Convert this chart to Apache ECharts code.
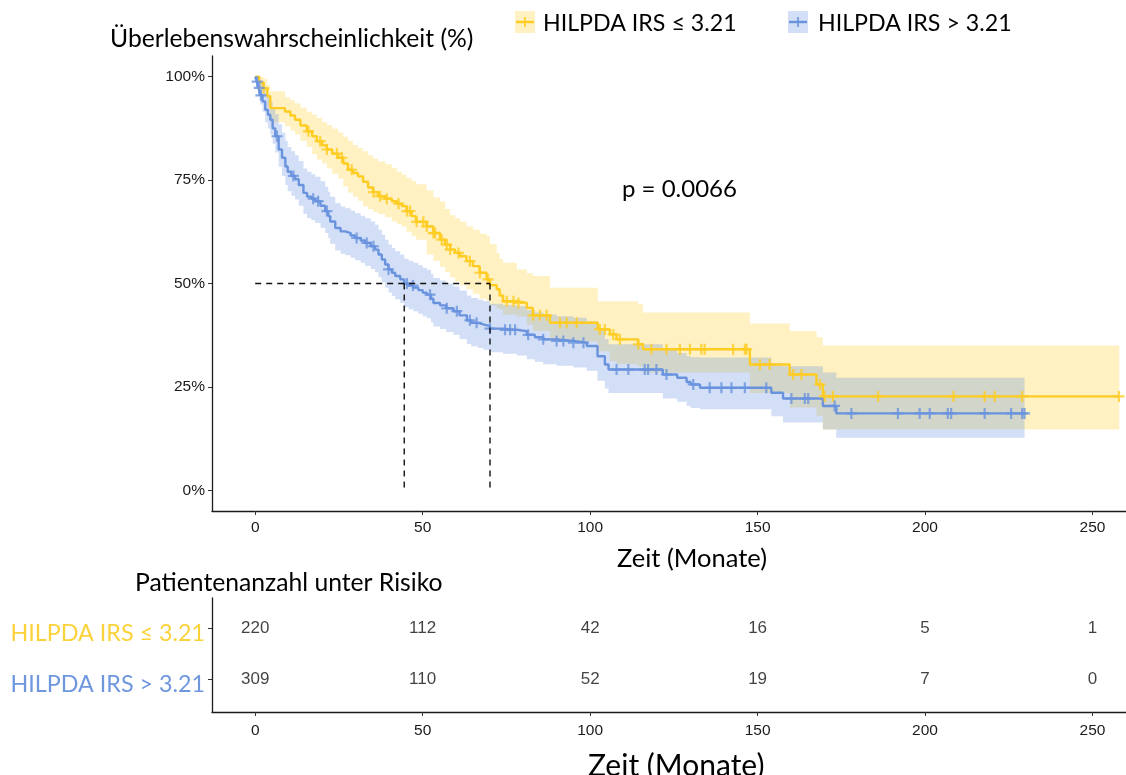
<!DOCTYPE html>
<html>
<head>
<meta charset="utf-8">
<script src="https://cdn.jsdelivr.net/npm/echarts@6/dist/echarts.min.js"></script>
<style>
  html, body { margin: 0; padding: 0; background: #fff; }
  #chart { width: 1126px; height: 775px; }
</style>
</head>
<body>
<div id="chart"></div>
<script>
// Kaplan–Meier steps per group: [time (months), survival %, lower 95% CI %, upper 95% CI %]
const lowSteps = [
  [0,100,100,100],[1.2,98.6,97,100],[2.5,97.2,95,99.5],[3.6,95.3,92.8,98],[4.5,92.4,89,96.5],
  [8.9,91.6,88,95],[10.5,90.6,87,94.3],[11.9,89.6,86,93.5],[13.5,88.2,84.5,92.5],[15.4,86.8,83,91.5],
  [17,85.6,81.3,90.8],[18.4,84.4,80,90],[20,83.4,79,89],[21.4,82.4,77.8,88.3],[23,81.4,76.5,87.5],
  [24.8,80.4,75.3,86.5],[26.3,79,73.5,85.5],[27.7,77.5,72,84.5],[29.2,76.7,71,83.5],[30.7,75.9,70,82.7],
  [32.2,74.6,68.7,82],[33.7,73.2,68,81],[35.2,72.1,67.3,80.2],[36.7,71.1,66.8,79.5],[38.8,70.5,66,78.8],
  [40.8,69.9,65,78],[42.3,69.3,64.3,77],[43.8,68.7,63.8,76.3],[45.2,67.5,62.5,75.5],[46.7,66.3,61.5,74.8],
  [48,64.9,60.6,74],[51.2,63.8,57,72.5],[53.2,62.2,55.5,70.8],[55.2,60.6,54,69.8],[56.7,59.4,52.8,68],
  [58.2,58.2,51.5,66.5],[59.7,57.4,50.5,65.8],[61.2,56.6,49.6,65],[63.1,55.4,48.6,63.8],[65,54.2,47.5,63],
  [67,52.6,46.3,62],[69.1,51,45.7,61.4],[70.1,49.6,44.7,59.5],[72.1,48.6,44,57.4],[73,47.1,43.7,56],
  [74,45.7,42.5,55],[78.1,45.3,42,53.4],[81.1,44.1,40,52.5],[82.9,42.3,38.5,51.8],[88,40.5,36,49],
  [102.3,38.9,33.6,45.7],[105.9,37.7,31.2,45.7],[107.9,36.5,30.5,45.7],[114.3,35.3,30,45],[115.8,34.1,28.5,43],
  [147.7,30.4,23.5,40.3],[159.6,28,20,38.5],[167.6,25.6,18,37],[169.5,22.7,14.7,35]
];
const lowEnd = 258;
const lowCensor = [
  2.5,15.9,19.4,21.4,24.4,25.9,28.8,35.3,37.3,39.3,42.8,45.3,46.2,48.2,50.2,51.2,53.2,53.7,55.7,57.2,
  58.2,60.7,64.1,67.1,69.5,75.1,77.1,78.6,83,85,87,91,93,96,102.9,104.4,106.9,108.9,114.4,118.3,
  122.8,126.8,129.8,133.2,134.2,142.7,146.2,146.7,150.7,153.6,160.6,163.1,168.6,170,172.5,186,208.5,
  217.8,220.8,229,257.9
];

const highSteps = [
  [0,100,100,100],[0.5,98.8,97.5,100],[1,97.3,95.5,99.5],[1.5,95.5,93.3,98.5],[2.2,94,91.5,97.5],
  [3,92,89,96],[3.8,90.8,87.5,95],[4.5,89.6,86,94],[5.2,87.5,83.8,92.5],[6,85.6,81.7,91],
  [7,82.4,78.2,88.5],[8,80.4,76,86.5],[9,78.3,73.8,84.5],[9.7,77,72.3,83],[10.8,76,71.2,82],
  [11.9,75.2,70.3,81],[13,73.8,68.8,79.6],[14.4,71.9,66.8,77.8],[15.5,71,65.8,77],[16.8,70.5,65.3,76.4],
  [17.9,69.9,64.6,75.8],[19.5,68.8,63.5,74.7],[20.9,67.5,62.2,73.4],[21.8,66.3,61,72.2],[22.4,65,59.6,71],
  [23.9,63.4,58,69.4],[25.5,62.6,57.2,68.6],[26.9,62.2,56.8,68.2],[28.5,61.6,56.2,67.6],[29.8,61,55.6,67],
  [31.5,60.4,55,66.4],[32.8,59.8,54.3,65.8],[34.5,59,53.5,65],[35.8,58.2,52.7,64.2],[36.8,57,51.5,63],
  [37.8,55.8,50.3,61.8],[38.8,54.6,49,60.6],[39.8,53.4,47.8,59.4],[40.8,52.6,47,58.6],[41.8,51.8,46.2,57.8],
  [43.3,51,45.3,57],[44.5,50,44.3,56],[45.8,49.5,43.8,55.5],[47.2,49,43.3,55],[48.7,48.4,42.7,54.4],
  [50,47.8,42.1,53.8],[51.2,47.3,41.6,53.3],[52.5,46.3,40.6,52.3],[53.2,45.3,39.6,51.3],[55.2,44.7,39,50.7],
  [57,44,38.3,50],[59.2,43.3,37.6,49.3],[61,42.3,36.6,48.3],[63.2,41.1,35.4,47.1],[64.5,40.5,34.8,46.5],
  [66.5,40.1,34.4,46.1],[68.1,39.7,34,45.7],[70.1,39.1,33.4,45.1],[74,38.8,33,44.8],[78.1,38.5,32.6,44.5],
  [81.1,37.6,31.7,43.6],[83.5,37,31.1,43],[86,36.5,30.5,42.5],[90,36.1,30.1,42.1],[95,35.7,29.7,41.7],
  [99,34.9,28.9,40.9],[102.2,32.4,26.5,38.5],[104.4,30.4,24.6,36.6],[105.5,29.2,23.5,35.3],[121.7,28,22.2,34],
  [126,27.2,21.4,33.2],[128.8,26.2,20.4,32.5],[130,25.6,19.9,32.2],[132.8,24.8,19.6,32.1],[154.1,23.6,17.9,30.8],
  [157.6,22.2,16.4,30],[169.5,20.4,14.7,28.5],[173.5,18.6,12.7,27.2]
];
const highEnd = 229.7;
const highCensor = [
  0.6,1.2,1.7,6.5,11.4,17.3,18.8,21.4,30.3,33.3,35.3,39.8,45.3,47.1,52.2,57.2,60.2,64.1,66.1,70.1,
  74.6,76.1,77.6,81.5,86,90,92,95,98,107.9,111.4,116.3,117.3,119.8,122.8,130.8,135.7,139.2,142.2,
  146.2,152.6,160.1,164.1,165.1,173,178,191.9,198.4,201.4,206.8,207.8,217.8,225.7,229,229.7
];

// median survival times (months) of the two groups
const medians = [44.5, 70.1];

// numbers at risk
const riskTimes = [0, 50, 100, 150, 200, 250];
const riskLow = [220, 112, 42, 16, 5, 1];
const riskHigh = [309, 110, 52, 19, 7, 0];

const xTicks = [0, 50, 100, 150, 200, 250];
const yTicks = [0, 25, 50, 75, 100];
const groupNames = ['HILPDA IRS ≤ 3.21', 'HILPDA IRS > 3.21'];
const pText = 'p = 0.0066';

const C = {
  lowLine: '#FFCC22', highLine: '#6A93DE',
  lowBand: 'rgba(255,204,26,0.27)', highBand: 'rgba(107,149,224,0.30)',
  lowText: '#FCD23A', highText: '#6E97DD'
};
const TXT = 'Lato, "Open Sans", sans-serif';
const NUM = '"Liberation Sans", Arial, sans-serif';
const PLUS = 'path://M-1.6,-8H1.6V-1.6H8V1.6H1.6V8H-1.6V1.6H-8V-1.6H-1.6Z';

function survAt(steps, t) {
  let s = steps[0][1];
  for (const r of steps) { if (r[0] <= t) s = r[1]; else break; }
  return s;
}
function stepLine(steps, end) {
  return steps.map(r => [r[0], r[1]]).concat([[end, steps[steps.length - 1][1]]]);
}
function bandSeries(steps, end, fill) {
  return {
    type: 'custom', xAxisIndex: 0, yAxisIndex: 0, silent: true, z: 2,
    data: [[0, 0]],
    renderItem: function (params, api) {
      const up = [], lo = [];
      for (let i = 0; i < steps.length; i++) {
        const t0 = steps[i][0];
        const t1 = i + 1 < steps.length ? steps[i + 1][0] : end;
        up.push(api.coord([t0, steps[i][3]]), api.coord([t1, steps[i][3]]));
        lo.push(api.coord([t0, steps[i][2]]), api.coord([t1, steps[i][2]]));
      }
      return { type: 'polygon', shape: { points: up.concat(lo.reverse()) }, style: { fill: fill } };
    }
  };
}
function label(text, x, y, size, fill, align) {
  return { type: 'text', x: x, y: y, silent: true,
    style: { text: text, fill: fill || '#000', font: size + 'px ' + TXT,
             align: align || 'left', verticalAlign: 'middle' } };
}

const axisLineStyle = { color: '#1a1a1a', width: 1.3 };
const tickLabel = { color: '#1a1a1a', fontFamily: NUM, fontSize: 15.5 };

const chart = echarts.init(document.getElementById('chart'), null, { renderer: 'canvas' });
chart.setOption({
  animation: false,
  backgroundColor: '#fff',
  grid: [
    { left: 212, right: 0, top: 56, height: 455 },
    { left: 212, right: 0, top: 598, height: 114 }
  ],
  xAxis: [
    { type: 'value', gridIndex: 0, min: -12.9, max: 260,
      axisLine: { show: true, onZero: false, lineStyle: axisLineStyle },
      axisTick: { show: true, length: 4, customValues: xTicks, lineStyle: { color: '#333' } },
      axisLabel: { customValues: xTicks, margin: 9, ...tickLabel },
      splitLine: { show: false } },
    { type: 'value', gridIndex: 1, min: -12.9, max: 260,
      axisLine: { show: true, onZero: false, lineStyle: axisLineStyle },
      axisTick: { show: true, length: 4, customValues: xTicks, lineStyle: { color: '#333' } },
      axisLabel: { customValues: xTicks, margin: 11, ...tickLabel },
      splitLine: { show: false } }
  ],
  yAxis: [
    { type: 'value', gridIndex: 0, min: -5, max: 105,
      axisLine: { show: true, onZero: false, lineStyle: axisLineStyle },
      axisTick: { show: true, length: 4, customValues: yTicks, lineStyle: { color: '#333' } },
      axisLabel: { customValues: yTicks, margin: 7, formatter: v => v + '%', ...tickLabel },
      splitLine: { show: false } },
    { type: 'value', gridIndex: 1, min: 0.353, max: 2.588,
      axisLine: { show: true, onZero: false, lineStyle: axisLineStyle },
      axisTick: { show: true, length: 4, customValues: [1, 2], lineStyle: { color: '#333' } },
      axisLabel: { show: false },
      splitLine: { show: false } }
  ],
  series: [
    { type: 'line', name: groupNames[0], step: 'end', showSymbol: false, z: 2,
      data: stepLine(lowSteps, lowEnd), lineStyle: { color: C.lowLine, width: 2.4 } },
    { type: 'line', name: groupNames[1], step: 'end', showSymbol: false, z: 2,
      data: stepLine(highSteps, highEnd), lineStyle: { color: C.highLine, width: 2.4 } },
    { type: 'scatter', z: 2, symbol: PLUS, symbolSize: 11, itemStyle: { color: C.lowLine },
      data: lowCensor.map(t => [t, survAt(lowSteps, t)]) },
    { type: 'scatter', z: 2, symbol: PLUS, symbolSize: 11, itemStyle: { color: C.highLine },
      data: highCensor.map(t => [t, survAt(highSteps, t)]) },
    bandSeries(lowSteps, lowEnd, C.lowBand),
    bandSeries(highSteps, highEnd, C.highBand),
    // median guides
    { type: 'line', z: 3, showSymbol: false, data: [[0, 50], [Math.max(...medians), 50]],
      lineStyle: { color: '#111', width: 1.4, type: [6, 5] } },
    ...medians.map(m => ({ type: 'line', z: 3, showSymbol: false, data: [[m, 50], [m, 0]],
      lineStyle: { color: '#111', width: 1.4, type: [6, 5] } })),
    // numbers at risk
    { type: 'scatter', xAxisIndex: 1, yAxisIndex: 1, symbolSize: 1, itemStyle: { color: 'rgba(0,0,0,0)' },
      data: riskTimes.map((t, i) => [t, 2, riskLow[i]]),
      label: { show: true, position: 'inside', formatter: p => String(p.value[2]),
               color: '#111', fontFamily: NUM, fontSize: 17 } },
    { type: 'scatter', xAxisIndex: 1, yAxisIndex: 1, symbolSize: 1, itemStyle: { color: 'rgba(0,0,0,0)' },
      data: riskTimes.map((t, i) => [t, 1, riskHigh[i]]),
      label: { show: true, position: 'inside', formatter: p => String(p.value[2]),
               color: '#111', fontFamily: NUM, fontSize: 17 } }
  ],
  graphic: [
    label('Überlebenswahrscheinlichkeit (%)', 110, 39, 24.7),
    // legend
    { type: 'rect', shape: { x: 515, y: 11, width: 20, height: 22 }, style: { fill: C.lowBand } },
    { type: 'line', shape: { x1: 516, y1: 22, x2: 534, y2: 22 }, style: { stroke: C.lowLine, lineWidth: 2.4 } },
    { type: 'line', shape: { x1: 525, y1: 17, x2: 525, y2: 27 }, style: { stroke: C.lowLine, lineWidth: 1.6 } },
    label(groupNames[0], 543, 24, 23.2),
    { type: 'rect', shape: { x: 788, y: 11, width: 20, height: 22 }, style: { fill: C.highBand } },
    { type: 'line', shape: { x1: 789, y1: 22, x2: 807, y2: 22 }, style: { stroke: C.highLine, lineWidth: 2.4 } },
    { type: 'line', shape: { x1: 798, y1: 17, x2: 798, y2: 27 }, style: { stroke: C.highLine, lineWidth: 1.6 } },
    label(groupNames[1], 818, 24, 23.2),
    label(pText, 622, 189, 24),
    label('Zeit (Monate)', 617, 559, 25.5),
    label('Patientenanzahl unter Risiko', 135, 583, 24.7),
    // group labels of the risk table
    label(groupNames[0], 205, 633, 23.3, C.lowText, 'right'),
    label(groupNames[1], 205, 684, 23.3, C.highText, 'right'),
    label('Zeit (Monate)', 588, 766, 30)
  ]
});
</script>
</body>
</html>
